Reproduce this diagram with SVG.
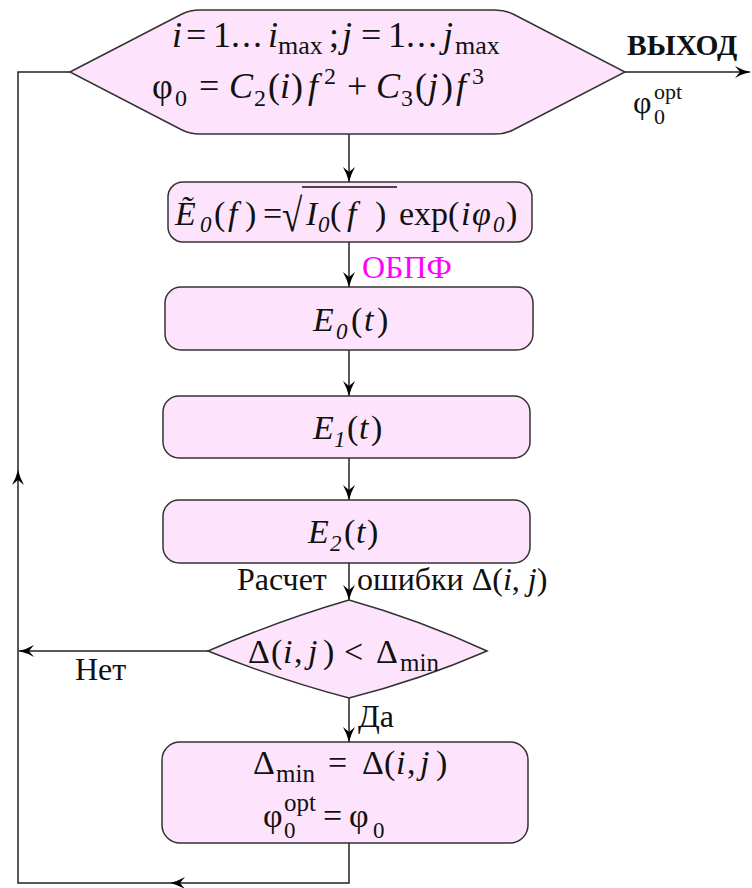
<svg xmlns="http://www.w3.org/2000/svg" width="752" height="888" viewBox="0 0 752 888">
<style>
.node{fill:#fde4fc;stroke:#333;stroke-width:1.5}
.ln{fill:none;stroke:#222;stroke-width:1.5}
.ah{fill:#000;stroke:none}
text,tspan{font-family:"Liberation Serif","Tinos","Times New Roman","DejaVu Serif",serif;fill:#111}
text{font-size:34px}
.big{font-size:36px}
.i{font-style:italic}
.s{font-size:23px}
.m{font-size:25px}
.lab{font-size:32px}
</style>
<defs>
<marker id="arr" markerUnits="userSpaceOnUse" markerWidth="18" markerHeight="14" viewBox="-16 -7 18 14" refX="0" refY="0" orient="auto">
<path d="M0,0 Q-8,-2 -15,-6 L-10,0 L-15,6 Q-8,2 0,0 Z" fill="#000"/>
</marker>
</defs>
<rect width="752" height="888" fill="#fff"/>
<g id="connectors">
<line class="ln" x1="349" y1="134" x2="349" y2="182" marker-end="url(#arr)"/>
<line class="ln" x1="349" y1="242" x2="349" y2="287" marker-end="url(#arr)"/>
<line class="ln" x1="349" y1="350" x2="349" y2="396" marker-end="url(#arr)"/>
<line class="ln" x1="349" y1="458" x2="349" y2="500" marker-end="url(#arr)"/>
<line class="ln" x1="349" y1="563" x2="349" y2="600" marker-end="url(#arr)"/>
<line class="ln" x1="349" y1="698" x2="349" y2="742" marker-end="url(#arr)"/>
<line class="ln" x1="208" y1="651" x2="19" y2="651" marker-end="url(#arr)"/>
<polyline class="ln" points="349,843 349,883 18,883 18,72 70,72"/>
<path class="ah" d="M170,883 Q178,881 185,877 L180,883 L185,889 Q178,885 170,883 Z"/>
<path class="ah" d="M18,470 Q20,478 24,485 L18,480 L12,485 Q16,478 18,470 Z"/>
<line class="ln" x1="625" y1="72" x2="750" y2="72" marker-end="url(#arr)"/>
</g>
<g id="loop">
<path class="node" d="M70,72 L182,14 Q190,10 200,10 L495,10 Q505,10 513,14 L625,72 L513,130 Q505,134 495,134 L200,134 Q190,134 182,130 Z"/>
<text class="big"><tspan class="i" x="172" y="47">i</tspan><tspan x="186">=</tspan><tspan x="213">1</tspan><tspan x="231" letter-spacing="2">...</tspan><tspan class="i" x="268">i</tspan><tspan x="278" y="54" style="font-size:26px">max</tspan><tspan x="329" y="47">;</tspan><tspan class="i" x="342">j</tspan><tspan x="361">=</tspan><tspan x="388">1</tspan><tspan x="406" letter-spacing="2">...</tspan><tspan class="i" x="443">j</tspan><tspan x="455" y="54" style="font-size:26px">max</tspan></text>
<text class="big"><tspan x="152" y="98">φ</tspan><tspan x="175" y="106" style="font-size:24px">0</tspan><tspan x="199" y="98">=</tspan><tspan class="i" x="229">C</tspan><tspan x="254" y="106" style="font-size:24px">2</tspan><tspan x="268" y="98">(</tspan><tspan class="i" x="280">i</tspan><tspan x="291">)</tspan><tspan class="i" x="308">f</tspan><tspan x="324" y="84" style="font-size:24px">2</tspan><tspan x="347" y="98">+</tspan><tspan class="i" x="376">C</tspan><tspan x="401" y="106" style="font-size:24px">3</tspan><tspan x="415" y="98">(</tspan><tspan class="i" x="428">j</tspan><tspan x="441">)</tspan><tspan class="i" x="456">f</tspan><tspan x="472" y="84" style="font-size:24px">3</tspan></text>
</g>
<g id="spectrum">
<rect class="node" x="168" y="182" width="364" height="60" rx="15"/>
<text><tspan class="i" x="175" y="225">Ẽ</tspan><tspan class="i s" x="200" y="232">0</tspan><tspan x="214" y="225">(</tspan><tspan class="i" x="228">f</tspan><tspan x="245">)</tspan><tspan x="263">=</tspan><tspan class="i" x="306">I</tspan><tspan class="i s" x="318" y="232">0</tspan><tspan x="330" y="225">(</tspan><tspan class="i" x="347">f</tspan><tspan x="375">)</tspan><tspan x="399">exp(</tspan><tspan class="i" x="461">i</tspan><tspan class="i" x="472">φ</tspan><tspan class="i s" x="493" y="232">0</tspan><tspan x="506" y="225">)</tspan></text>
<text transform="translate(282,231) scale(1,1.25)" style="font-size:37px">√</text>
<line x1="302" y1="187" x2="397" y2="187" stroke="#111" stroke-width="1.5"/>
</g>
<text class="lab" x="362" y="278" style="fill:#ff00ff">ОБПФ</text>
<g id="e0">
<rect class="node" x="165" y="287" width="368" height="63" rx="16"/>
<text><tspan class="i" x="313" y="331">E</tspan><tspan class="i s" x="336" y="339">0</tspan><tspan x="351" y="331">(</tspan><tspan class="i" x="364">t</tspan><tspan x="377">)</tspan></text>
</g>
<g id="e1">
<rect class="node" x="163" y="396" width="367" height="62" rx="16"/>
<text><tspan class="i" x="313" y="439">E</tspan><tspan class="i s" x="334" y="447">1</tspan><tspan x="347" y="439">(</tspan><tspan class="i" x="359">t</tspan><tspan x="371">)</tspan></text>
</g>
<g id="e2">
<rect class="node" x="163" y="500" width="367" height="63" rx="16"/>
<text><tspan class="i" x="308" y="543">E</tspan><tspan class="i s" x="330" y="551">2</tspan><tspan x="344" y="543">(</tspan><tspan class="i" x="356">t</tspan><tspan x="367">)</tspan></text>
</g>
<text class="lab" x="237" y="590">Расчет</text>
<text class="lab"><tspan x="357" y="590">ошибки Δ(</tspan><tspan class="i">i</tspan><tspan>, </tspan><tspan class="i">j</tspan><tspan>)</tspan></text>
<g id="check">
<path class="node" d="M208,651 Q280,620 349,600 Q420,620 487,651 Q420,680 349,698 Q280,680 208,651 Z"/>
<text><tspan x="248" y="663">Δ</tspan><tspan x="271">(</tspan><tspan class="i" x="283">i</tspan><tspan x="294">,</tspan><tspan class="i" x="308">j</tspan><tspan x="323">)</tspan><tspan x="344">&lt;</tspan><tspan x="376">Δ</tspan><tspan class="m" x="400" y="671">min</tspan></text>
</g>
<text class="lab" x="75" y="680">Нет</text>
<text class="lab" x="358" y="727">Да</text>
<g id="update">
<rect class="node" x="162" y="742" width="366" height="101" rx="18"/>
<text><tspan x="253" y="774">Δ</tspan><tspan class="m" x="276" y="782">min</tspan><tspan x="328" y="774">=</tspan><tspan x="362">Δ</tspan><tspan x="384">(</tspan><tspan class="i" x="396">i</tspan><tspan x="407">,</tspan><tspan class="i" x="420">j</tspan><tspan x="436">)</tspan></text>
<text><tspan x="263" y="827">φ</tspan><tspan class="s" x="284" y="838">0</tspan><tspan class="m" x="284" y="811">opt</tspan><tspan x="323" y="827">=</tspan><tspan x="349">φ</tspan><tspan class="s" x="373" y="838">0</tspan></text>
</g>
<g id="exit">
<text x="627" y="55" font-weight="bold" style="font-size:29.5px">ВЫХОД</text>
<text><tspan x="633" y="113" style="font-size:32px">φ</tspan><tspan x="654" y="124" style="font-size:22px">0</tspan><tspan x="654" y="99" style="font-size:22px">opt</tspan></text>
</g>
</svg>
